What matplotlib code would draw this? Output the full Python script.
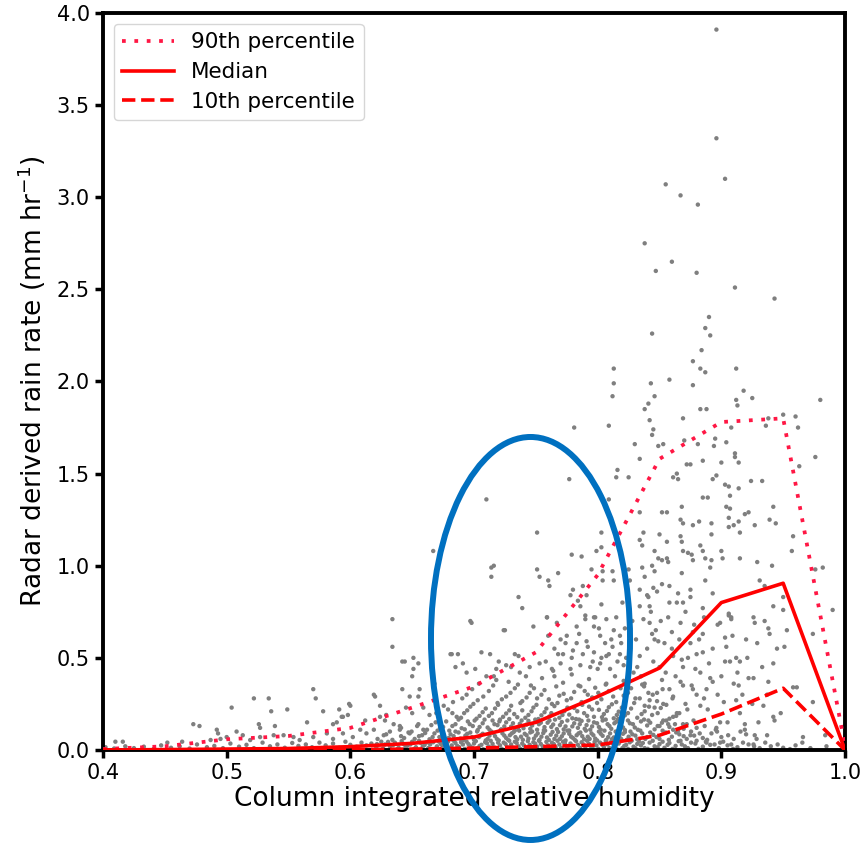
import matplotlib
matplotlib.use("Agg")
import matplotlib.pyplot as plt
from matplotlib.patches import Ellipse

# ---------------- data ----------------
bin_x = [0.40, 0.45, 0.50, 0.55, 0.60, 0.65, 0.70, 0.75, 0.80, 0.85, 0.90, 0.95, 1.00]
p90 = [0.005, 0.02, 0.058, 0.076, 0.12, 0.23, 0.345, 0.53, 0.95, 1.58, 1.78, 1.80, 0.02]
median = [0.0, 0.002, 0.005, 0.008, 0.018, 0.036, 0.07, 0.15, 0.29, 0.445, 0.80, 0.905, 0.0]
p10 = [0.0, 0.0, 0.0, 0.0, 0.002, 0.005, 0.01, 0.018, 0.027, 0.08, 0.195, 0.335, 0.0]

pts_outliers = [
    (0.896, 3.91), (0.896, 3.32), (0.903, 3.10), (0.855, 3.07), (0.867, 3.01),
    (0.881, 2.96), (0.838, 2.75), (0.860, 2.65), (0.847, 2.60), (0.880, 2.59),
    (0.911, 2.51), (0.943, 2.45), (0.890, 2.35), (0.887, 2.29), (0.891, 2.25),
    (0.844, 2.26), (0.884, 2.17), (0.877, 2.11), (0.883, 2.07), (0.887, 2.05),
    (0.912, 2.07), (0.813, 2.07), (0.813, 1.99), (0.843, 1.99), (0.858, 2.01),
    (0.877, 1.98), (0.812, 1.92), (0.846, 1.92), (0.918, 1.95), (0.925, 1.91),
    (0.912, 1.90), (0.841, 1.88), (0.980, 1.90), (0.883, 1.85), (0.888, 1.85),
    (0.838, 1.85), (0.913, 1.87),
]

pts_upper = [
    (0.869, 1.80), (0.842, 1.79), (0.809, 1.76), (0.781, 1.75), (0.845, 1.74),
    (0.844, 1.71), (0.938, 1.80), (0.936, 1.76), (0.960, 1.81), (0.962, 1.75),
    (0.950, 1.82), (0.908, 1.75), (0.830, 1.66), (0.849, 1.65), (0.853, 1.66),
    (0.870, 1.68), (0.881, 1.66), (0.894, 1.65), (0.895, 1.69), (0.904, 1.67),
    (0.911, 1.61), (0.911, 1.59), (0.914, 1.56), (0.900, 1.56), (0.885, 1.57),
    (0.875, 1.55), (0.872, 1.55), (0.834, 1.58), (0.976, 1.59), (0.963, 1.54),
    (0.816, 1.52), (0.864, 1.50), (0.861, 1.48), (0.865, 1.47), (0.896, 1.49),
    (0.893, 1.47), (0.924, 1.46), (0.933, 1.46), (0.903, 1.44), (0.906, 1.43),
    (0.914, 1.42), (0.815, 1.48), (0.825, 1.48), (0.777, 1.47), (0.907, 1.38),
    (0.885, 1.37), (0.889, 1.37), (0.710, 1.36), (0.809, 1.36), (0.751, 1.18),
    (0.667, 1.08), (0.803, 1.18), (0.803, 1.10), (0.799, 1.08), (0.779, 1.06),
    (0.787, 1.05), (0.795, 0.98), (0.804, 0.97), (0.812, 0.97), (0.716, 1.00),
    (0.714, 0.94), (0.751, 0.98), (0.753, 0.94), (0.760, 0.92), (0.761, 0.89),
    (0.768, 0.96), (0.804, 0.92), (0.813, 0.92), (0.780, 0.87), (0.778, 0.84),
    (0.788, 0.89), (0.791, 0.84), (0.784, 0.81), (0.786, 0.78), (0.736, 0.83),
    (0.739, 0.77), (0.803, 0.79), (0.820, 0.80), (0.825, 0.98), (0.826, 0.92),
    (0.759, 0.72), (0.798, 0.72), (0.790, 0.73), (0.714, 0.99), (0.697, 0.70),
    (0.725, 0.65), (0.681, 0.52), (0.685, 0.45), (0.668, 0.36),
]

pts_right = [
    (0.868, 1.32), (0.852, 1.29), (0.856, 1.29), (0.834, 1.29), (0.904, 1.32),
    (0.907, 1.31), (0.922, 1.29), (0.919, 1.28), (0.942, 1.32), (0.867, 1.25),
    (0.869, 1.23), (0.877, 1.22), (0.882, 1.24), (0.892, 1.23), (0.906, 1.26),
    (0.906, 1.21), (0.910, 1.22), (0.914, 1.24), (0.915, 1.18), (0.927, 1.22),
    (0.939, 1.25), (0.944, 1.23), (0.837, 1.18), (0.834, 1.14), (0.836, 1.11),
    (0.850, 1.17), (0.856, 1.13), (0.868, 1.13), (0.867, 1.16), (0.883, 1.11),
    (0.892, 1.17), (0.846, 1.08), (0.849, 1.04), (0.852, 1.03), (0.856, 1.04),
    (0.857, 1.02), (0.869, 1.08), (0.873, 1.07), (0.876, 1.06), (0.877, 1.03),
    (0.885, 1.08), (0.887, 1.04), (0.892, 1.03), (0.891, 0.99), (0.900, 1.08),
    (0.901, 1.04), (0.915, 1.04), (0.929, 1.02), (0.941, 1.00), (0.958, 1.16),
    (0.957, 1.08), (0.982, 0.99), (0.976, 0.98), (0.836, 0.99), (0.838, 0.94),
    (0.844, 1.00), (0.846, 0.97), (0.868, 0.96), (0.887, 0.92), (0.852, 0.90),
    (0.858, 0.89), (0.845, 0.88), (0.848, 0.86), (0.841, 0.83), (0.865, 0.85),
    (0.875, 0.87), (0.875, 0.83), (0.893, 0.85), (0.931, 0.92), (0.935, 0.89),
    (0.950, 0.83), (0.942, 0.78), (0.950, 0.76), (0.990, 0.76), (0.834, 0.87),
    (0.840, 0.84), (0.858, 0.80), (0.864, 0.80), (0.869, 0.80), (0.834, 0.78),
    (0.842, 0.78), (0.885, 0.77), (0.906, 0.74), (0.908, 0.72), (0.926, 0.72),
    (0.837, 0.71), (0.842, 0.69), (0.844, 0.63), (0.846, 0.60), (0.849, 0.59),
    (0.854, 0.58), (0.860, 0.64), (0.867, 0.69), (0.877, 0.64), (0.885, 0.63),
    (0.906, 0.73), (0.908, 0.71), (0.899, 0.69), (0.927, 0.69), (0.935, 0.70),
    (0.938, 0.66), (0.939, 0.63), (0.903, 0.61), (0.920, 0.60), (0.951, 0.56),
    (0.903, 0.48), (0.907, 0.48), (0.912, 0.50), (0.915, 0.48), (0.942, 0.47),
    (0.834, 0.51), (0.845, 0.48), (0.850, 0.45), (0.861, 0.51), (0.868, 0.49),
    (0.869, 0.45), (0.879, 0.44), (0.883, 0.42), (0.880, 0.52), (0.885, 0.53),
    (0.891, 0.39), (0.893, 0.37), (0.922, 0.39), (0.926, 0.39), (0.938, 0.37),
    (0.961, 0.34), (0.974, 0.26), (0.910, 0.36), (0.914, 0.35), (0.867, 0.37),
    (0.869, 0.35), (0.858, 0.33), (0.861, 0.29), (0.876, 0.35), (0.877, 0.33),
    (0.880, 0.30), (0.888, 0.33), (0.883, 0.24), (0.889, 0.22), (0.902, 0.26),
    (0.912, 0.27), (0.934, 0.24), (0.942, 0.18), (0.943, 0.16), (0.919, 0.14),
    (0.919, 0.11), (0.899, 0.15), (0.896, 0.12), (0.937, 0.08), (0.927, 0.08),
    (0.926, 0.03), (0.908, 0.03), (0.966, 0.07), (0.984, 0.08), (0.848, 0.31),
    (0.842, 0.27), (0.838, 0.24), (0.846, 0.23), (0.853, 0.25), (0.841, 0.16),
    (0.853, 0.16), (0.861, 0.18), (0.869, 0.14), (0.850, 0.13), (0.861, 0.11),
    (0.875, 0.08), (0.867, 0.05), (0.880, 0.05), (0.888, 0.04), (0.899, 0.04),
    (0.974, 0.63), (0.958, 0.34),
]

pts_right_extra = [
    (0.803, 0.50), (0.812, 0.56), (0.818, 0.62), (0.822, 0.66), (0.826, 0.55),
    (0.828, 0.70), (0.831, 0.60), (0.832, 0.45), (0.835, 0.40), (0.838, 0.36),
    (0.840, 0.55), (0.843, 0.75), (0.847, 0.65), (0.851, 0.70), (0.852, 0.38),
    (0.855, 0.42), (0.857, 0.72), (0.860, 0.55), (0.863, 0.40), (0.866, 0.60),
    (0.871, 0.75), (0.873, 0.50), (0.875, 0.58), (0.878, 0.68), (0.882, 0.60),
    (0.886, 0.72), (0.890, 0.47), (0.893, 0.55), (0.897, 0.68), (0.900, 0.40),
    (0.904, 0.56), (0.909, 0.62), (0.913, 0.42), (0.917, 0.30), (0.921, 0.50),
    (0.925, 0.25), (0.929, 0.58), (0.933, 0.45), (0.937, 0.30), (0.945, 0.55),
    (0.948, 0.20), (0.953, 0.65), (0.930, 0.15), (0.915, 0.20), (0.905, 0.15),
    (0.897, 0.30), (0.886, 0.28), (0.871, 0.25), (0.864, 0.20), (0.857, 0.14),
    (0.742, 0.40), (0.758, 0.48), (0.768, 0.52), (0.774, 0.58), (0.779, 0.50),
    (0.785, 0.63), (0.792, 0.56), (0.796, 0.48), (0.801, 0.66), (0.806, 0.58),
    (0.809, 0.52), (0.813, 0.65), (0.816, 0.48), (0.819, 0.58), (0.823, 0.50),
    (0.760, 0.62), (0.770, 0.60), (0.765, 0.40), (0.730, 0.45), (0.720, 0.48),
]

pts_mid = [
    (0.698, 0.69), (0.724, 0.65), (0.748, 0.67), (0.759, 0.72), (0.767, 0.69),
    (0.783, 0.67), (0.790, 0.71), (0.797, 0.72), (0.797, 0.67), (0.807, 0.71),
    (0.815, 0.72), (0.682, 0.52), (0.687, 0.52), (0.706, 0.53), (0.713, 0.52),
    (0.733, 0.52), (0.736, 0.51), (0.775, 0.62), (0.783, 0.58), (0.791, 0.59),
    (0.802, 0.62), (0.811, 0.60), (0.765, 0.55), (0.772, 0.52), (0.780, 0.54),
    (0.788, 0.52), (0.797, 0.53), (0.807, 0.51), (0.818, 0.52), (0.691, 0.47),
    (0.701, 0.44), (0.694, 0.42), (0.718, 0.44), (0.726, 0.46), (0.710, 0.40),
    (0.718, 0.38), (0.745, 0.45), (0.753, 0.47), (0.763, 0.44), (0.770, 0.47),
    (0.778, 0.44), (0.786, 0.46), (0.794, 0.45), (0.802, 0.47), (0.810, 0.44),
    (0.821, 0.46),
]

pts_left = [
    (0.634, 0.71), (0.634, 0.56), (0.642, 0.48), (0.644, 0.48), (0.651, 0.50),
    (0.655, 0.47), (0.651, 0.44), (0.650, 0.40), (0.570, 0.33), (0.572, 0.28),
    (0.642, 0.33), (0.656, 0.33), (0.619, 0.30), (0.620, 0.29), (0.522, 0.28),
    (0.534, 0.28), (0.504, 0.23), (0.536, 0.21), (0.549, 0.22), (0.578, 0.21),
    (0.599, 0.25), (0.600, 0.24), (0.591, 0.22), (0.594, 0.18), (0.598, 0.19),
    (0.624, 0.24), (0.629, 0.19), (0.648, 0.29), (0.655, 0.29), (0.659, 0.23),
    (0.645, 0.23), (0.650, 0.20), (0.473, 0.14), (0.478, 0.13), (0.492, 0.11),
    (0.493, 0.09), (0.508, 0.10), (0.526, 0.14), (0.527, 0.12), (0.539, 0.13),
    (0.565, 0.15), (0.586, 0.14), (0.589, 0.15), (0.593, 0.18), (0.612, 0.16),
    (0.624, 0.18), (0.628, 0.16), (0.635, 0.14), (0.640, 0.13), (0.410, 0.045),
    (0.416, 0.045), (0.452, 0.04), (0.464, 0.045), (0.487, 0.054), (0.495, 0.06),
    (0.500, 0.07), (0.513, 0.08), (0.519, 0.054), (0.527, 0.07), (0.538, 0.08),
    (0.546, 0.08), (0.554, 0.07), (0.559, 0.054), (0.570, 0.07), (0.581, 0.09),
    (0.586, 0.06), (0.594, 0.09), (0.602, 0.07), (0.608, 0.11), (0.613, 0.09),
    (0.619, 0.11), (0.627, 0.08), (0.632, 0.10), (0.640, 0.11), (0.648, 0.09),
    (0.654, 0.13), (0.659, 0.11),
]

pts_band_a = [
    (0.402, 0.015), (0.409, 0.008), (0.418, 0.02), (0.425, 0.01), (0.433, 0.018),
    (0.441, 0.006), (0.447, 0.025), (0.455, 0.012), (0.462, 0.02), (0.470, 0.008),
    (0.476, 0.03), (0.484, 0.015), (0.490, 0.022), (0.497, 0.01), (0.503, 0.035),
    (0.510, 0.018), (0.516, 0.028), (0.522, 0.01), (0.529, 0.04), (0.535, 0.02),
    (0.541, 0.03), (0.547, 0.012), (0.553, 0.038), (0.558, 0.022), (0.564, 0.03),
    (0.569, 0.015), (0.575, 0.04), (0.580, 0.025), (0.586, 0.035), (0.591, 0.012),
    (0.596, 0.045), (0.600, 0.028), (0.605, 0.018), (0.609, 0.04), (0.613, 0.025),
    (0.617, 0.035), (0.621, 0.015), (0.625, 0.045), (0.628, 0.03), (0.632, 0.02),
    (0.636, 0.04), (0.639, 0.012), (0.643, 0.033), (0.646, 0.022), (0.650, 0.045),
    (0.653, 0.015), (0.657, 0.038), (0.660, 0.027), (0.663, 0.01), (0.667, 0.042),
    (0.670, 0.02), (0.673, 0.033), (0.676, 0.012), (0.679, 0.045), (0.682, 0.025),
    (0.685, 0.038), (0.688, 0.015), (0.691, 0.03), (0.694, 0.045), (0.697, 0.02),
    (0.700, 0.035), (0.703, 0.01), (0.706, 0.028), (0.709, 0.042), (0.712, 0.018),
    (0.715, 0.033), (0.718, 0.008), (0.721, 0.025), (0.724, 0.04), (0.727, 0.015),
    (0.730, 0.03), (0.733, 0.045), (0.736, 0.02), (0.739, 0.035), (0.742, 0.01),
    (0.745, 0.028), (0.748, 0.042), (0.751, 0.018), (0.754, 0.033), (0.757, 0.008),
    (0.760, 0.025), (0.763, 0.04), (0.766, 0.015), (0.769, 0.03), (0.772, 0.045),
    (0.775, 0.02), (0.778, 0.035), (0.781, 0.01), (0.784, 0.028), (0.787, 0.042),
    (0.790, 0.018), (0.793, 0.033), (0.796, 0.008), (0.799, 0.025), (0.802, 0.04),
    (0.805, 0.015), (0.808, 0.03), (0.811, 0.045), (0.814, 0.02), (0.817, 0.035),
    (0.820, 0.01), (0.823, 0.028), (0.826, 0.042), (0.829, 0.018), (0.832, 0.033),
    (0.835, 0.025), (0.838, 0.01), (0.842, 0.04), (0.846, 0.02), (0.850, 0.032),
    (0.854, 0.012), (0.858, 0.038), (0.863, 0.022), (0.868, 0.03), (0.873, 0.01),
    (0.879, 0.035), (0.885, 0.018), (0.891, 0.028), (0.898, 0.01), (0.905, 0.025),
    (0.913, 0.015), (0.922, 0.03), (0.931, 0.01), (0.940, 0.02), (0.950, 0.012),
    (0.960, 0.025), (0.972, 0.01), (0.985, 0.02),
]

pts_band_a2 = [
    (0.6215, 0.032), (0.6265, 0.008), (0.6305, 0.044), (0.6345, 0.026), (0.6385, 0.006),
    (0.6415, 0.048), (0.6445, 0.014), (0.6485, 0.030), (0.6515, 0.005), (0.6555, 0.050),
    (0.6585, 0.018), (0.6615, 0.040), (0.6645, 0.030), (0.6685, 0.006), (0.6715, 0.046),
    (0.6745, 0.024), (0.6775, 0.036), (0.6805, 0.008), (0.6835, 0.050), (0.6865, 0.022),
    (0.6895, 0.042), (0.6925, 0.006), (0.6955, 0.032), (0.6985, 0.012), (0.7015, 0.048),
    (0.7045, 0.022), (0.7075, 0.004), (0.7105, 0.036), (0.7135, 0.050), (0.7165, 0.014),
    (0.7195, 0.040), (0.7225, 0.006), (0.7255, 0.032), (0.7285, 0.050), (0.7315, 0.012),
    (0.7345, 0.038), (0.7375, 0.006), (0.7405, 0.024), (0.7435, 0.048), (0.7465, 0.010),
    (0.7495, 0.034), (0.7525, 0.050), (0.7555, 0.020), (0.7585, 0.044), (0.7615, 0.006),
    (0.7645, 0.032), (0.7675, 0.050), (0.7705, 0.012), (0.7735, 0.036), (0.7765, 0.004),
    (0.7795, 0.024), (0.7825, 0.048), (0.7855, 0.012), (0.7885, 0.030), (0.7915, 0.050),
    (0.7945, 0.020), (0.7975, 0.044), (0.8005, 0.006), (0.8035, 0.030), (0.8065, 0.050),
    (0.8095, 0.010), (0.8125, 0.036), (0.8155, 0.004), (0.8185, 0.048), (0.8215, 0.022),
    (0.8245, 0.006), (0.8275, 0.050), (0.8305, 0.010), (0.8335, 0.046), (0.8365, 0.038),
    (0.8405, 0.006), (0.8445, 0.050), (0.8485, 0.015), (0.8525, 0.045), (0.8565, 0.028),
    (0.8605, 0.006), (0.8655, 0.048), (0.8705, 0.020), (0.8755, 0.040), (0.8815, 0.006),
    (0.8875, 0.045), (0.8945, 0.030), (0.9015, 0.045), (0.9095, 0.006), (0.9175, 0.040),
    (0.9265, 0.020), (0.9355, 0.040), (0.9455, 0.030), (0.9555, 0.005), (0.9655, 0.040),
]

pts_band_b = [
    (0.622, 0.06), (0.629, 0.085), (0.634, 0.055), (0.641, 0.075), (0.647, 0.095),
    (0.652, 0.06), (0.658, 0.08), (0.664, 0.058), (0.668, 0.09), (0.672, 0.07),
    (0.677, 0.052), (0.681, 0.085), (0.685, 0.10), (0.689, 0.062), (0.693, 0.078),
    (0.697, 0.095), (0.700, 0.055), (0.704, 0.07), (0.707, 0.088), (0.711, 0.06),
    (0.714, 0.10), (0.717, 0.075), (0.720, 0.052), (0.723, 0.09), (0.726, 0.065),
    (0.729, 0.08), (0.732, 0.097), (0.735, 0.058), (0.738, 0.072), (0.741, 0.088),
    (0.744, 0.062), (0.747, 0.10), (0.750, 0.078), (0.753, 0.055), (0.756, 0.092),
    (0.759, 0.068), (0.762, 0.083), (0.765, 0.06), (0.768, 0.098), (0.771, 0.074),
    (0.774, 0.052), (0.777, 0.088), (0.780, 0.065), (0.783, 0.08), (0.786, 0.095),
    (0.789, 0.058), (0.792, 0.072), (0.795, 0.09), (0.798, 0.062), (0.801, 0.10),
    (0.804, 0.077), (0.807, 0.055), (0.810, 0.09), (0.813, 0.068), (0.816, 0.083),
    (0.819, 0.06), (0.822, 0.097), (0.825, 0.072), (0.828, 0.085), (0.832, 0.058),
    (0.836, 0.09), (0.840, 0.07), (0.845, 0.082), (0.850, 0.06), (0.855, 0.095),
    (0.860, 0.072), (0.866, 0.085), (0.872, 0.06), (0.878, 0.078), (0.885, 0.065),
    (0.892, 0.09), (0.900, 0.07), (0.910, 0.06), (0.920, 0.085),
]

pts_band_b2 = [
    (0.6435, 0.065), (0.6495, 0.100), (0.6555, 0.075), (0.6605, 0.092), (0.6665, 0.070),
    (0.6705, 0.105), (0.6745, 0.085), (0.6795, 0.065), (0.6835, 0.075), (0.6875, 0.095),
    (0.6915, 0.055), (0.6945, 0.088), (0.6985, 0.070), (0.7025, 0.100), (0.7055, 0.080),
    (0.7095, 0.052), (0.7125, 0.078), (0.7155, 0.092), (0.7185, 0.060), (0.7215, 0.108),
    (0.7245, 0.078), (0.7275, 0.055), (0.7305, 0.090), (0.7335, 0.070), (0.7365, 0.105),
    (0.7395, 0.055), (0.7425, 0.080), (0.7455, 0.095), (0.7485, 0.062), (0.7515, 0.090),
    (0.7545, 0.072), (0.7575, 0.105), (0.7605, 0.055), (0.7635, 0.098), (0.7665, 0.078),
    (0.7695, 0.060), (0.7725, 0.090), (0.7755, 0.105), (0.7785, 0.072), (0.7815, 0.055),
    (0.7845, 0.090), (0.7875, 0.075), (0.7905, 0.105), (0.7935, 0.060), (0.7965, 0.080),
    (0.7995, 0.052), (0.8025, 0.088), (0.8055, 0.105), (0.8085, 0.070), (0.8115, 0.058),
    (0.8145, 0.100), (0.8175, 0.075), (0.8205, 0.088), (0.8235, 0.055), (0.8265, 0.100),
    (0.8305, 0.078), (0.8345, 0.105), (0.8385, 0.060), (0.8425, 0.095), (0.8475, 0.070),
    (0.8525, 0.105), (0.8575, 0.055), (0.8635, 0.095), (0.8695, 0.075), (0.8755, 0.100),
    (0.8825, 0.090), (0.8885, 0.055), (0.8965, 0.100), (0.9055, 0.080), (0.9155, 0.100),
    (0.9285, 0.060),
]

pts_band_c = [
    (0.641, 0.12), (0.655, 0.14), (0.662, 0.11), (0.669, 0.15), (0.675, 0.125),
    (0.680, 0.105), (0.685, 0.14), (0.690, 0.118), (0.695, 0.155), (0.699, 0.13),
    (0.703, 0.108), (0.707, 0.145), (0.711, 0.122), (0.715, 0.16), (0.719, 0.135),
    (0.722, 0.112), (0.726, 0.15), (0.730, 0.127), (0.733, 0.105), (0.737, 0.142),
    (0.740, 0.118), (0.744, 0.158), (0.747, 0.133), (0.751, 0.11), (0.754, 0.148),
    (0.757, 0.124), (0.761, 0.16), (0.764, 0.138), (0.767, 0.113), (0.771, 0.152),
    (0.774, 0.128), (0.777, 0.106), (0.781, 0.145), (0.784, 0.12), (0.787, 0.158),
    (0.791, 0.135), (0.794, 0.11), (0.797, 0.15), (0.801, 0.125), (0.804, 0.16),
    (0.808, 0.14), (0.811, 0.115), (0.815, 0.153), (0.818, 0.13), (0.822, 0.108),
    (0.826, 0.145), (0.830, 0.122), (0.835, 0.155), (0.840, 0.133), (0.846, 0.112),
    (0.852, 0.148), (0.858, 0.125), (0.865, 0.105), (0.872, 0.14), (0.880, 0.12),
]

pts_band_c2 = [
    (0.6655, 0.135), (0.6725, 0.120), (0.6775, 0.155), (0.6825, 0.130), (0.6875, 0.165),
    (0.6925, 0.112), (0.6965, 0.140), (0.7005, 0.160), (0.7045, 0.125), (0.7085, 0.165),
    (0.7125, 0.110), (0.7165, 0.140), (0.7205, 0.155), (0.7245, 0.128), (0.7285, 0.168),
    (0.7315, 0.145), (0.7355, 0.120), (0.7385, 0.160), (0.7425, 0.138), (0.7455, 0.115),
    (0.7495, 0.165), (0.7525, 0.140), (0.7565, 0.108), (0.7595, 0.148), (0.7625, 0.125),
    (0.7655, 0.165), (0.7695, 0.135), (0.7725, 0.112), (0.7755, 0.160), (0.7795, 0.128),
    (0.7825, 0.168), (0.7855, 0.140), (0.7895, 0.115), (0.7925, 0.160), (0.7955, 0.128),
    (0.7995, 0.145), (0.8025, 0.110), (0.8065, 0.165), (0.8095, 0.130), (0.8135, 0.145),
    (0.8165, 0.168), (0.8205, 0.122), (0.8245, 0.160), (0.8285, 0.140), (0.8325, 0.110),
    (0.8375, 0.165), (0.8425, 0.148), (0.8485, 0.130), (0.8555, 0.160), (0.8625, 0.140),
    (0.8695, 0.115), (0.8775, 0.160), (0.8865, 0.130), (0.8955, 0.110),
]

pts_band_d = [
    (0.664, 0.19), (0.672, 0.17), (0.679, 0.22), (0.686, 0.18), (0.692, 0.20),
    (0.697, 0.235), (0.702, 0.17), (0.707, 0.205), (0.712, 0.185), (0.717, 0.225),
    (0.721, 0.165), (0.726, 0.198), (0.730, 0.24), (0.735, 0.178), (0.739, 0.215),
    (0.744, 0.19), (0.748, 0.23), (0.752, 0.168), (0.757, 0.205), (0.761, 0.182),
    (0.765, 0.238), (0.769, 0.175), (0.773, 0.21), (0.777, 0.192), (0.781, 0.228),
    (0.785, 0.165), (0.789, 0.20), (0.793, 0.235), (0.797, 0.18), (0.801, 0.218),
    (0.805, 0.195), (0.809, 0.232), (0.813, 0.172), (0.817, 0.208), (0.822, 0.188),
    (0.827, 0.225), (0.832, 0.175), (0.838, 0.21), (0.844, 0.19), (0.851, 0.228),
    (0.858, 0.17), (0.866, 0.20),
]

pts_band_d2 = [
    (0.6695, 0.200), (0.6755, 0.240), (0.6825, 0.200), (0.6895, 0.175), (0.6945, 0.215),
    (0.6995, 0.250), (0.7045, 0.185), (0.7095, 0.225), (0.7145, 0.200), (0.7195, 0.245),
    (0.7235, 0.180), (0.7285, 0.215), (0.7325, 0.195), (0.7375, 0.255), (0.7415, 0.175),
    (0.7465, 0.210), (0.7505, 0.245), (0.7545, 0.188), (0.7585, 0.225), (0.7625, 0.200),
    (0.7675, 0.255), (0.7715, 0.190), (0.7755, 0.230), (0.7795, 0.172), (0.7835, 0.210),
    (0.7875, 0.245), (0.7915, 0.185), (0.7955, 0.220), (0.7995, 0.255), (0.8035, 0.178),
    (0.8075, 0.212), (0.8115, 0.248), (0.8155, 0.190), (0.8195, 0.230), (0.8245, 0.200),
    (0.8295, 0.255), (0.8355, 0.195), (0.8415, 0.235), (0.8485, 0.200), (0.8555, 0.245),
    (0.8635, 0.185), (0.8725, 0.220),
]

pts_band_e = [
    (0.683, 0.26), (0.694, 0.30), (0.703, 0.27), (0.712, 0.32), (0.719, 0.255),
    (0.726, 0.29), (0.733, 0.335), (0.739, 0.265), (0.745, 0.31), (0.751, 0.28),
    (0.757, 0.325), (0.763, 0.25), (0.769, 0.295), (0.775, 0.27), (0.781, 0.315),
    (0.787, 0.26), (0.792, 0.30), (0.798, 0.338), (0.803, 0.275), (0.809, 0.32),
    (0.815, 0.26), (0.821, 0.295), (0.827, 0.335), (0.834, 0.28), (0.841, 0.31),
    (0.848, 0.265), (0.704, 0.36), (0.716, 0.40), (0.728, 0.37), (0.737, 0.42),
    (0.746, 0.35), (0.755, 0.39), (0.764, 0.43), (0.772, 0.365), (0.779, 0.41),
    (0.786, 0.345), (0.793, 0.385), (0.800, 0.44), (0.807, 0.36), (0.814, 0.40),
    (0.821, 0.375), (0.829, 0.42), (0.836, 0.355),
]

pts_band_e2 = [
    (0.6905, 0.280), (0.6985, 0.330), (0.7075, 0.290), (0.7155, 0.350), (0.7225, 0.275),
    (0.7295, 0.310), (0.7355, 0.355), (0.7425, 0.285), (0.7485, 0.335), (0.7545, 0.300),
    (0.7605, 0.275), (0.7665, 0.345), (0.7725, 0.305), (0.7785, 0.280), (0.7845, 0.350),
    (0.7895, 0.320), (0.7955, 0.285), (0.8005, 0.310), (0.8065, 0.355), (0.8125, 0.290),
    (0.8185, 0.335), (0.8245, 0.310), (0.8305, 0.280), (0.8375, 0.345), (0.8445, 0.300),
    (0.8525, 0.330), (0.8605, 0.280),
]

legend_labels = ["90th percentile", "Median", "10th percentile"]
x_label = "Column integrated relative humidity"
y_label = r"Radar derived rain rate (mm hr$^{-1}$)"

# ---------------- figure ----------------
fig = plt.figure(figsize=(8.65, 8.44), dpi=100)
ax = fig.add_axes([0.1191, 0.1114, 0.8578, 0.8732])

all_pts = (pts_outliers + pts_upper + pts_right + pts_right_extra + pts_mid +
           pts_left + pts_band_a + pts_band_a2 + pts_band_b + pts_band_b2 +
           pts_band_c + pts_band_c2 + pts_band_d + pts_band_d2 + pts_band_e +
           pts_band_e2)
sx = [p[0] for p in all_pts]
sy = [p[1] for p in all_pts]
ax.scatter(sx, sy, s=10, color="#7f7f7f", edgecolors="none", zorder=2)

ax.plot(bin_x, p90, color="#ff1744", lw=2.7, linestyle=(0, (1, 2.3)),
        label=legend_labels[0], zorder=3)
ax.plot(bin_x, median, color="red", lw=2.6, linestyle="-",
        label=legend_labels[1], zorder=3)
ax.plot(bin_x, p10, color="red", lw=2.6, linestyle=(0, (3.7, 1.6)),
        label=legend_labels[2], zorder=3)

ax.set_xlim(0.4, 1.0)
ax.set_ylim(0.0, 4.0)
ax.set_xticks([0.4, 0.5, 0.6, 0.7, 0.8, 0.9, 1.0])
ax.set_yticks([0.0, 0.5, 1.0, 1.5, 2.0, 2.5, 3.0, 3.5, 4.0])
ax.tick_params(axis="both", labelsize=15, width=2.5, length=6, color="black")
for sp in ax.spines.values():
    sp.set_linewidth(2.8)

ax.set_xlabel(x_label, fontsize=19, labelpad=2)
ax.set_ylabel(y_label, fontsize=19, labelpad=6)

leg = ax.legend(loc="upper left", fontsize=15.5, handlelength=2.4,
                borderpad=0.4, labelspacing=0.45, frameon=True)
leg.get_frame().set_edgecolor("#cccccc")

ell = Ellipse((0.6133, 0.2435), 0.2301, 0.4775, transform=fig.transFigure,
              fill=False, edgecolor="#0070c0", linewidth=4.3, zorder=10,
              clip_on=False)
fig.patches.append(ell)

fig.savefig("out.png", dpi=100, facecolor="white")
